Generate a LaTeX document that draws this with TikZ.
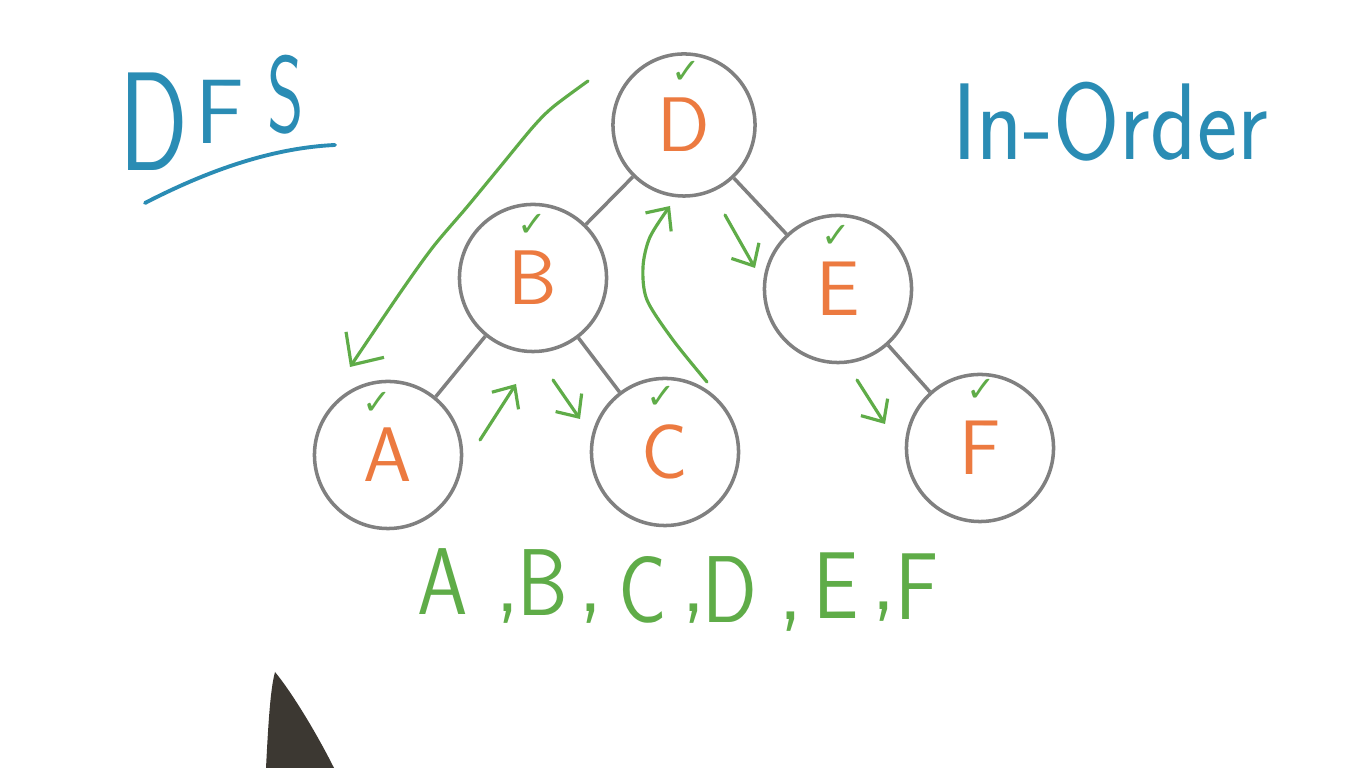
\documentclass[tikz,border=0pt]{standalone}
\usepackage{fontspec}
\usetikzlibrary{arrows.meta}
\newfontfamily\symfont{DejaVu Sans}
\definecolor{inkblue}{RGB}{42,140,180}
\definecolor{inkgreen}{RGB}{95,172,72}
\definecolor{inkorange}{RGB}{236,122,64}
\definecolor{ringgray}{RGB}{128,128,128}
\definecolor{pendark}{RGB}{60,56,50}
\begin{document}
\begin{tikzpicture}[x=0.01cm,y=-0.01cm,
  treenode/.style={circle,draw=ringgray,line width=1pt,minimum size=1.47cm,inner sep=0pt,
    text=inkorange,font=\sffamily\fontsize{22}{22}\selectfont},
  treeedge/.style={draw=ringgray,line width=1pt},
  tickmark/.style={text=inkgreen,font=\symfont\fontsize{10}{10}\selectfont,inner sep=0pt},
  trail/.style={draw=inkgreen,line width=0.9pt,line cap=round,line join=round},
  bigbarb/.style={-{Straight Barb[length=7pt,width=13pt,line width=0.9pt]}},
  barb/.style={-{Straight Barb[length=5pt,width=9pt,line width=0.9pt]}},
  seq/.style={text=inkgreen,font=\sffamily\fontsize{27}{27}\selectfont,inner sep=0pt},
  title/.style={text=inkblue,inner sep=0pt}]
\useasboundingbox (0,0) rectangle (1366,768);
\fill[white] (0,0) rectangle (1366,768);

% titles
\node[title,font=\sffamily\fontsize{40}{40}\selectfont] (dfsD) at (154,122) {\scalebox{0.72}[1]{D}};
\node[title,font=\sffamily\fontsize{26}{26}\selectfont] (dfsF) at (220,112) {F};
\node[title,font=\sffamily\fontsize{31}{31}\selectfont] (dfsS) at (286,95) {\scalebox{0.64}[1]{S}};
\coordinate (ul1) at (145,203);
\coordinate (ul2) at (335,145);
\draw[draw=inkblue,line width=1.1pt,line cap=round] (ul1) .. controls (205,172) and (270,148) .. (ul2);
\node[title,font=\sffamily\fontsize{31}{31}\selectfont] (inorder) at (1110,122) {\scalebox{0.88}[1]{In-Order}};

% tree
\node[treenode,minimum size=1.42cm] (D) at (684,125) {D};
\node[treenode] (B) at (533,278) {B};
\node[treenode] (E) at (838,289) {E};
\node[treenode] (A) at (388,455) {A};
\node[treenode] (C) at (665,452) {C};
\node[treenode] (F) at (980,448) {F};
\draw[treeedge] (D) -- (B);
\draw[treeedge] (D) -- (E);
\draw[treeedge] (B) -- (A);
\draw[treeedge] (B) -- (C);
\draw[treeedge] (E) -- (F);

% visited ticks
\node[tickmark] (tD) at (686,72) {✓};
\node[tickmark] (tB) at (532,225) {✓};
\node[tickmark] (tE) at (836,236) {✓};
\node[tickmark] (tA) at (377,403) {✓};
\node[tickmark] (tC) at (661,397) {✓};
\node[tickmark] (tF) at (981,390) {✓};

% traversal strokes
\draw[trail,bigbarb] plot[smooth] coordinates {(588,81) (553,107) (533,127) (500,167) (467,207) (433,247) (400,293) (350,367)};
\coordinate (ab1) at (480,440);
\coordinate (ab2) at (516,384);
\draw[trail,barb] (ab1) -- (ab2);
\coordinate (bc1) at (553,380);
\coordinate (bc2) at (580,419);
\draw[trail,barb] (bc1) -- (bc2);
\draw[trail,barb] plot[smooth] coordinates {(707,382) (673,340) (647,300) (643,267) (650,237) (670,206)};
\coordinate (de1) at (725,215);
\coordinate (de2) at (755,268);
\draw[trail,barb] (de1) -- (de2);
\coordinate (ef1) at (857,380);
\coordinate (ef2) at (885,424);
\draw[trail,barb] (ef1) -- (ef2);

% in-order result
\node[seq] (sA) at (443,582) {\scalebox{0.85}[1]{A}};
\node[seq] (c1) at (508,614) {,};
\node[seq] (sB) at (543,583) {\scalebox{0.85}[1]{B}};
\node[seq] (c2) at (591,614) {,};
\node[seq] (sC) at (643,590) {\scalebox{0.85}[1]{C}};
\node[seq] (c3) at (694,614) {,};
\node[seq] (sD) at (730,590) {\scalebox{0.85}[1]{D}};
\node[seq] (c4) at (791,622) {,};
\node[seq] (sE) at (836,586) {\scalebox{0.85}[1]{E}};
\node[seq] (c5) at (884,612) {,};
\node[seq] (sF) at (917,587) {\scalebox{0.85}[1]{F}};

% marker tip
\fill[pendark] (275,672) .. controls (290,690) and (315,730) .. (334,768) -- (266,768) .. controls (268,730) and (270,690) .. cycle;
\end{tikzpicture}
\end{document}
